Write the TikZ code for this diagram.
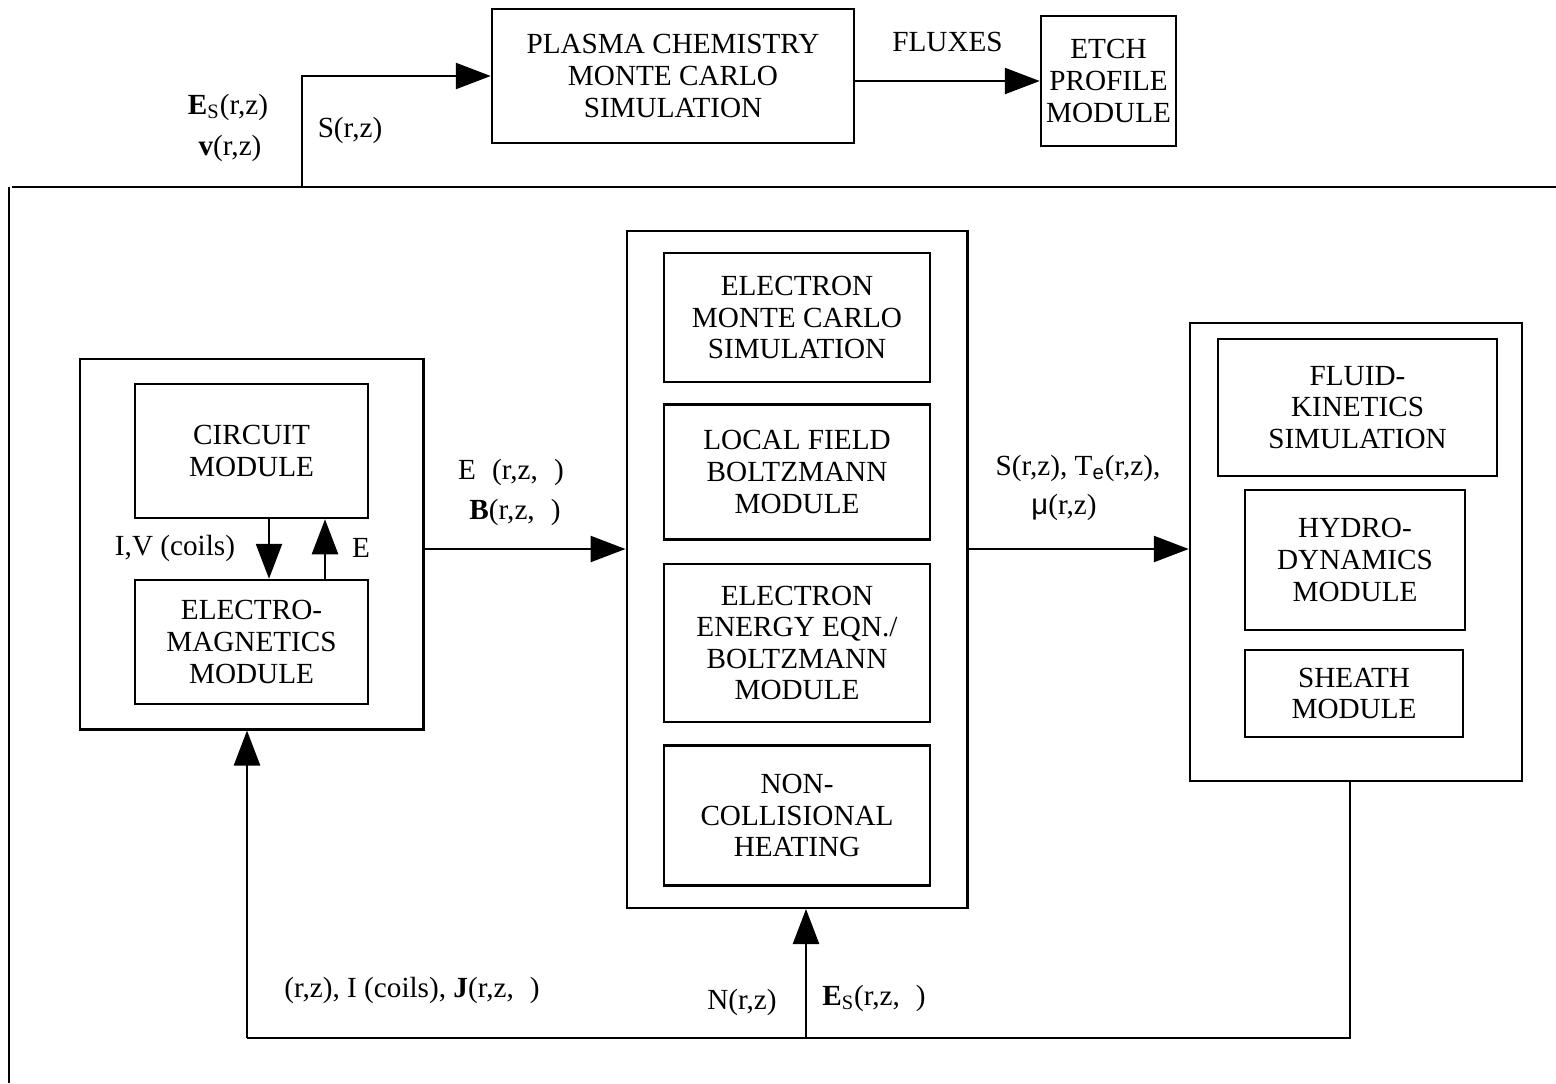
\documentclass[tikz,border=0pt]{standalone}
\usepackage{fontspec}
\setmainfont{Liberation Serif}
\setsansfont{Liberation Sans}
\usetikzlibrary{arrows.meta, positioning, fit}

\begin{document}
\begin{tikzpicture}[
  x=0.5pt, y=-0.5pt,
  font=\fontsize{14.6}{15.8}\selectfont,
  line width=1.25pt,
  arrow/.style={-{Triangle[length=17.5pt, width=13pt]}},
  box/.style={
    draw,
    align=center,
    inner sep=0pt
  },
  group/.style={draw, inner xsep=18pt, inner ysep=10.5pt},
  lbl/.style={inner sep=0pt, align=center},
  node distance=10.5pt
]
\useasboundingbox (0,0) rectangle (1556,1083);

% =========================
% Top row
% =========================
\node[box, minimum width=181pt, minimum height=67pt] (plasma) at (673,76)
{PLASMA CHEMISTRY\\MONTE CARLO\\SIMULATION};
\node[box, minimum width=67.5pt, minimum height=65pt] (etch) at (1108.5,81)
{ETCH\\PROFILE\\MODULE};

\draw[arrow] (plasma.east |- etch.west) -- (etch.west)
  node[lbl, midway, above=14pt] (fluxlbl) {FLUXES};

% frame of the plasma model
\coordinate (ftl) at (9,187);
\coordinate (fbl) at (9,1083);
\coordinate (fsl) at (12,187);
\coordinate (fsr) at (1556,187);
\draw (fsl) -- (fsr);
\draw (ftl) -- (fbl);

\coordinate (stap) at (302,187);
\draw[arrow] (stap) |- (plasma.west);

\node[lbl] (eslbl) at (228,107) {\textbf{E}\textsubscript{S}(r,z)};
\node[lbl] (vlbl) at (230,148) {\textbf{v}(r,z)};
\node[lbl] (slbl) at (350,130) {S(r,z)};

% =========================
% Left group
% =========================
\node[box, minimum width=116.5pt, minimum height=67pt] (circuit) at (251.5,451)
{CIRCUIT\\MODULE};
\node[box, minimum width=116.5pt, minimum height=62pt] (emag) at (251.5,642)
{ELECTRO-\\MAGNETICS\\MODULE};
\node[group, inner xsep=27pt, inner ysep=12pt, fit=(circuit)(emag)] (lgrp) {};

\draw[arrow] ([xshift=8.75pt]circuit.south) -- ([xshift=8.75pt]emag.north);
\draw[arrow] ([xshift=36.75pt]emag.north) -- ([xshift=36.75pt]circuit.south);
\node[lbl] (ivlbl) at (175,548) {I,V (coils)};
\node[lbl] (elbl) at (361,548) {E};

% =========================
% Centre group
% =========================
\node[box, minimum width=133pt, minimum height=64.5pt] (emc) at (797,317.5)
{ELECTRON\\MONTE CARLO\\SIMULATION};
\node[box, minimum width=133pt, minimum height=67.5pt, below=10pt of emc] (lfb)
{LOCAL FIELD\\BOLTZMANN\\MODULE};
\node[box, minimum width=133pt, minimum height=79pt, below=11pt of lfb] (eee)
{ELECTRON\\ENERGY EQN./\\BOLTZMANN\\MODULE};
\node[box, minimum width=133pt, minimum height=70pt, below=of eee] (nch)
{NON-\\COLLISIONAL\\HEATING};
\node[group, fit=(emc)(nch)] (cgrp) {};

% =========================
% Right group
% =========================
\node[box, minimum width=139.5pt, minimum height=68.5pt] (fkin) at (1357.5,407.5)
{FLUID-\\KINETICS\\SIMULATION};
\node[box, minimum width=110pt, minimum height=70pt] (hydro) at (1355,560)
{HYDRO-\\DYNAMICS\\MODULE};
\node[box, minimum width=109pt, minimum height=43.5pt] (sheath) at (1354,693.5)
{SHEATH\\MODULE};
\node[draw, minimum width=166pt, minimum height=229pt] (rgrp) at (1356,552) {};

% =========================
% Links between groups
% =========================
\coordinate (midrow) at (0,549);
\draw[arrow] (lgrp.east |- midrow) -- (cgrp.west |- midrow);
\draw[arrow] (cgrp.east |- midrow) -- (rgrp.west |- midrow);

\node[lbl] (eblbl) at (511,472) {E\hspace{0.55em}(r,z,\hspace{0.55em})};
\node[lbl] (bblbl) at (515,512) {\textbf{B}(r,z,\hspace{0.55em})};
\node[lbl] (stlbl) at (1078,468) {S(r,z), T\textsubscript{\sffamily e}(r,z),};
\node[lbl] (mulbl) at (1064,507) {{\sffamily μ}(r,z)};

% feedback along the bottom
\coordinate (rdown) at (1350,1038);
\coordinate (cdown) at (806,1038);
\coordinate (ldown) at (247,1038);
\draw (rgrp.south -| rdown) -- (rdown) -- (ldown);
\draw[arrow] (ldown) -- (ldown |- lgrp.south);
\draw[arrow] (cdown) -- (cdown |- cgrp.south);

\node[lbl] (jlbl) at (412,990) {(r,z), I (coils), \textbf{J}(r,z,\hspace{0.55em})};
\node[lbl] (nlbl) at (742,1002) {N(r,z)};
\node[lbl] (eszlbl) at (874,998) {\textbf{E}\textsubscript{S}(r,z,\hspace{0.55em})};

\end{tikzpicture}
\end{document}
